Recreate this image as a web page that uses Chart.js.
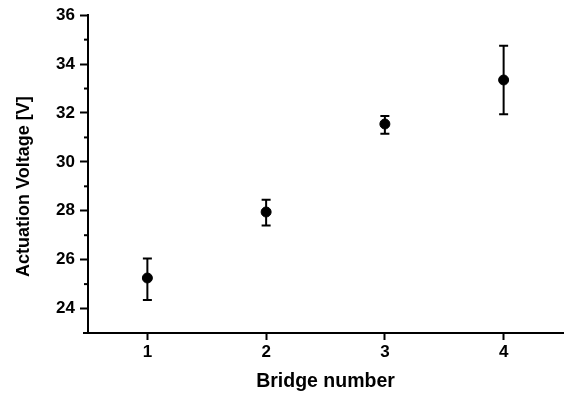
<!DOCTYPE html>
<html>
<head>
<meta charset="utf-8">
<script src="https://cdn.jsdelivr.net/npm/chart.js@4.4.1/dist/chart.umd.min.js"></script>
<style>
html,body{margin:0;padding:0;background:#fff;}
canvas{display:block;}
</style>
</head>
<body>
<canvas id="c" width="569" height="396"></canvas>
<script>
const bridges = [1, 2, 3, 4];
const voltage = [25.25, 27.95, 31.55, 33.35];
const errLow = [24.35, 27.4, 31.15, 31.95];
const errHigh = [26.05, 28.45, 31.88, 34.75];
const yMajorTicks = [24, 26, 28, 30, 32, 34, 36];
const yMinorTicks = [25, 27, 29, 31, 33, 35];
const xTitle = 'Bridge number';
const yTitle = 'Actuation Voltage [V]';

const FONT = "'Liberation Sans', Arial, sans-serif";

const errorBars = {
  id: 'errorBars',
  afterDatasetsDraw(chart) {
    const ctx = chart.ctx, xs = chart.scales.x, ys = chart.scales.y;
    ctx.save();
    ctx.strokeStyle = '#000';
    ctx.lineWidth = 2;
    bridges.forEach((b, i) => {
      const x = xs.getPixelForValue(b);
      const y1 = ys.getPixelForValue(errLow[i]);
      const y2 = ys.getPixelForValue(errHigh[i]);
      ctx.beginPath();
      ctx.moveTo(x, y1); ctx.lineTo(x, y2);
      ctx.moveTo(x - 4.5, y1); ctx.lineTo(x + 4.5, y1);
      ctx.moveTo(x - 4.5, y2); ctx.lineTo(x + 4.5, y2);
      ctx.stroke();
    });
    const area = chart.chartArea;
    // minor y ticks
    yMinorTicks.forEach(v => {
      const y = ys.getPixelForValue(v);
      ctx.beginPath();
      ctx.moveTo(area.left - 4, y); ctx.lineTo(area.left, y);
      ctx.stroke();
    });
    // small overhang of x axis line to the left
    ctx.beginPath();
    ctx.moveTo(area.left - 5, area.bottom); ctx.lineTo(area.left, area.bottom);
    ctx.stroke();
    // y axis title (placed slightly below the axis centre, as in the reference)
    ctx.fillStyle = '#000';
    ctx.font = 'bold 18px ' + FONT;
    ctx.textAlign = 'center';
    ctx.textBaseline = 'middle';
    ctx.translate(24.5, (area.top + area.bottom) / 2 + 12.5);
    ctx.rotate(-Math.PI / 2);
    ctx.fillText(yTitle, 0, 0);
    ctx.restore();
  }
};

new Chart(document.getElementById('c'), {
  type: 'scatter',
  data: {
    datasets: [{
      data: bridges.map((b, i) => ({x: b, y: voltage[i]})),
      backgroundColor: '#000',
      borderColor: '#000',
      pointRadius: 5,
      pointHoverRadius: 5
    }]
  },
  options: {
    responsive: false,
    animation: false,
    events: [],
    layout: {padding: {top: 15, right: 1, left: 0, bottom: 0}},
    plugins: {legend: {display: false}, tooltip: {enabled: false}},
    scales: {
      x: {
        type: 'linear',
        min: 0.5, max: 4.5,
        afterBuildTicks: s => { s.ticks = bridges.map(v => ({value: v})); },
        afterFit: s => { s.height = 63; },
        ticks: {color: '#000', font: {family: FONT, size: 17, weight: 'bold'}, padding: 2},
        grid: {drawOnChartArea: false, drawTicks: true, tickLength: 7, tickColor: '#000', tickWidth: 2},
        border: {color: '#000', width: 2},
        title: {display: true, text: xTitle, color: '#000',
                font: {family: FONT, size: 19.5, weight: 'bold'}, padding: {top: 0, bottom: 3}}
      },
      y: {
        min: 23, max: 36,
        afterBuildTicks: s => { s.ticks = yMajorTicks.map(v => ({value: v})); },
        afterFit: s => { s.width = 88; },
        ticks: {color: '#000', font: {family: FONT, size: 17, weight: 'bold'}, padding: 5},
        grid: {drawOnChartArea: false, drawTicks: true, tickLength: 8, tickColor: '#000', tickWidth: 2},
        border: {color: '#000', width: 2},
        title: {display: false}
      }
    }
  },
  plugins: [errorBars]
});
</script>
</body>
</html>
